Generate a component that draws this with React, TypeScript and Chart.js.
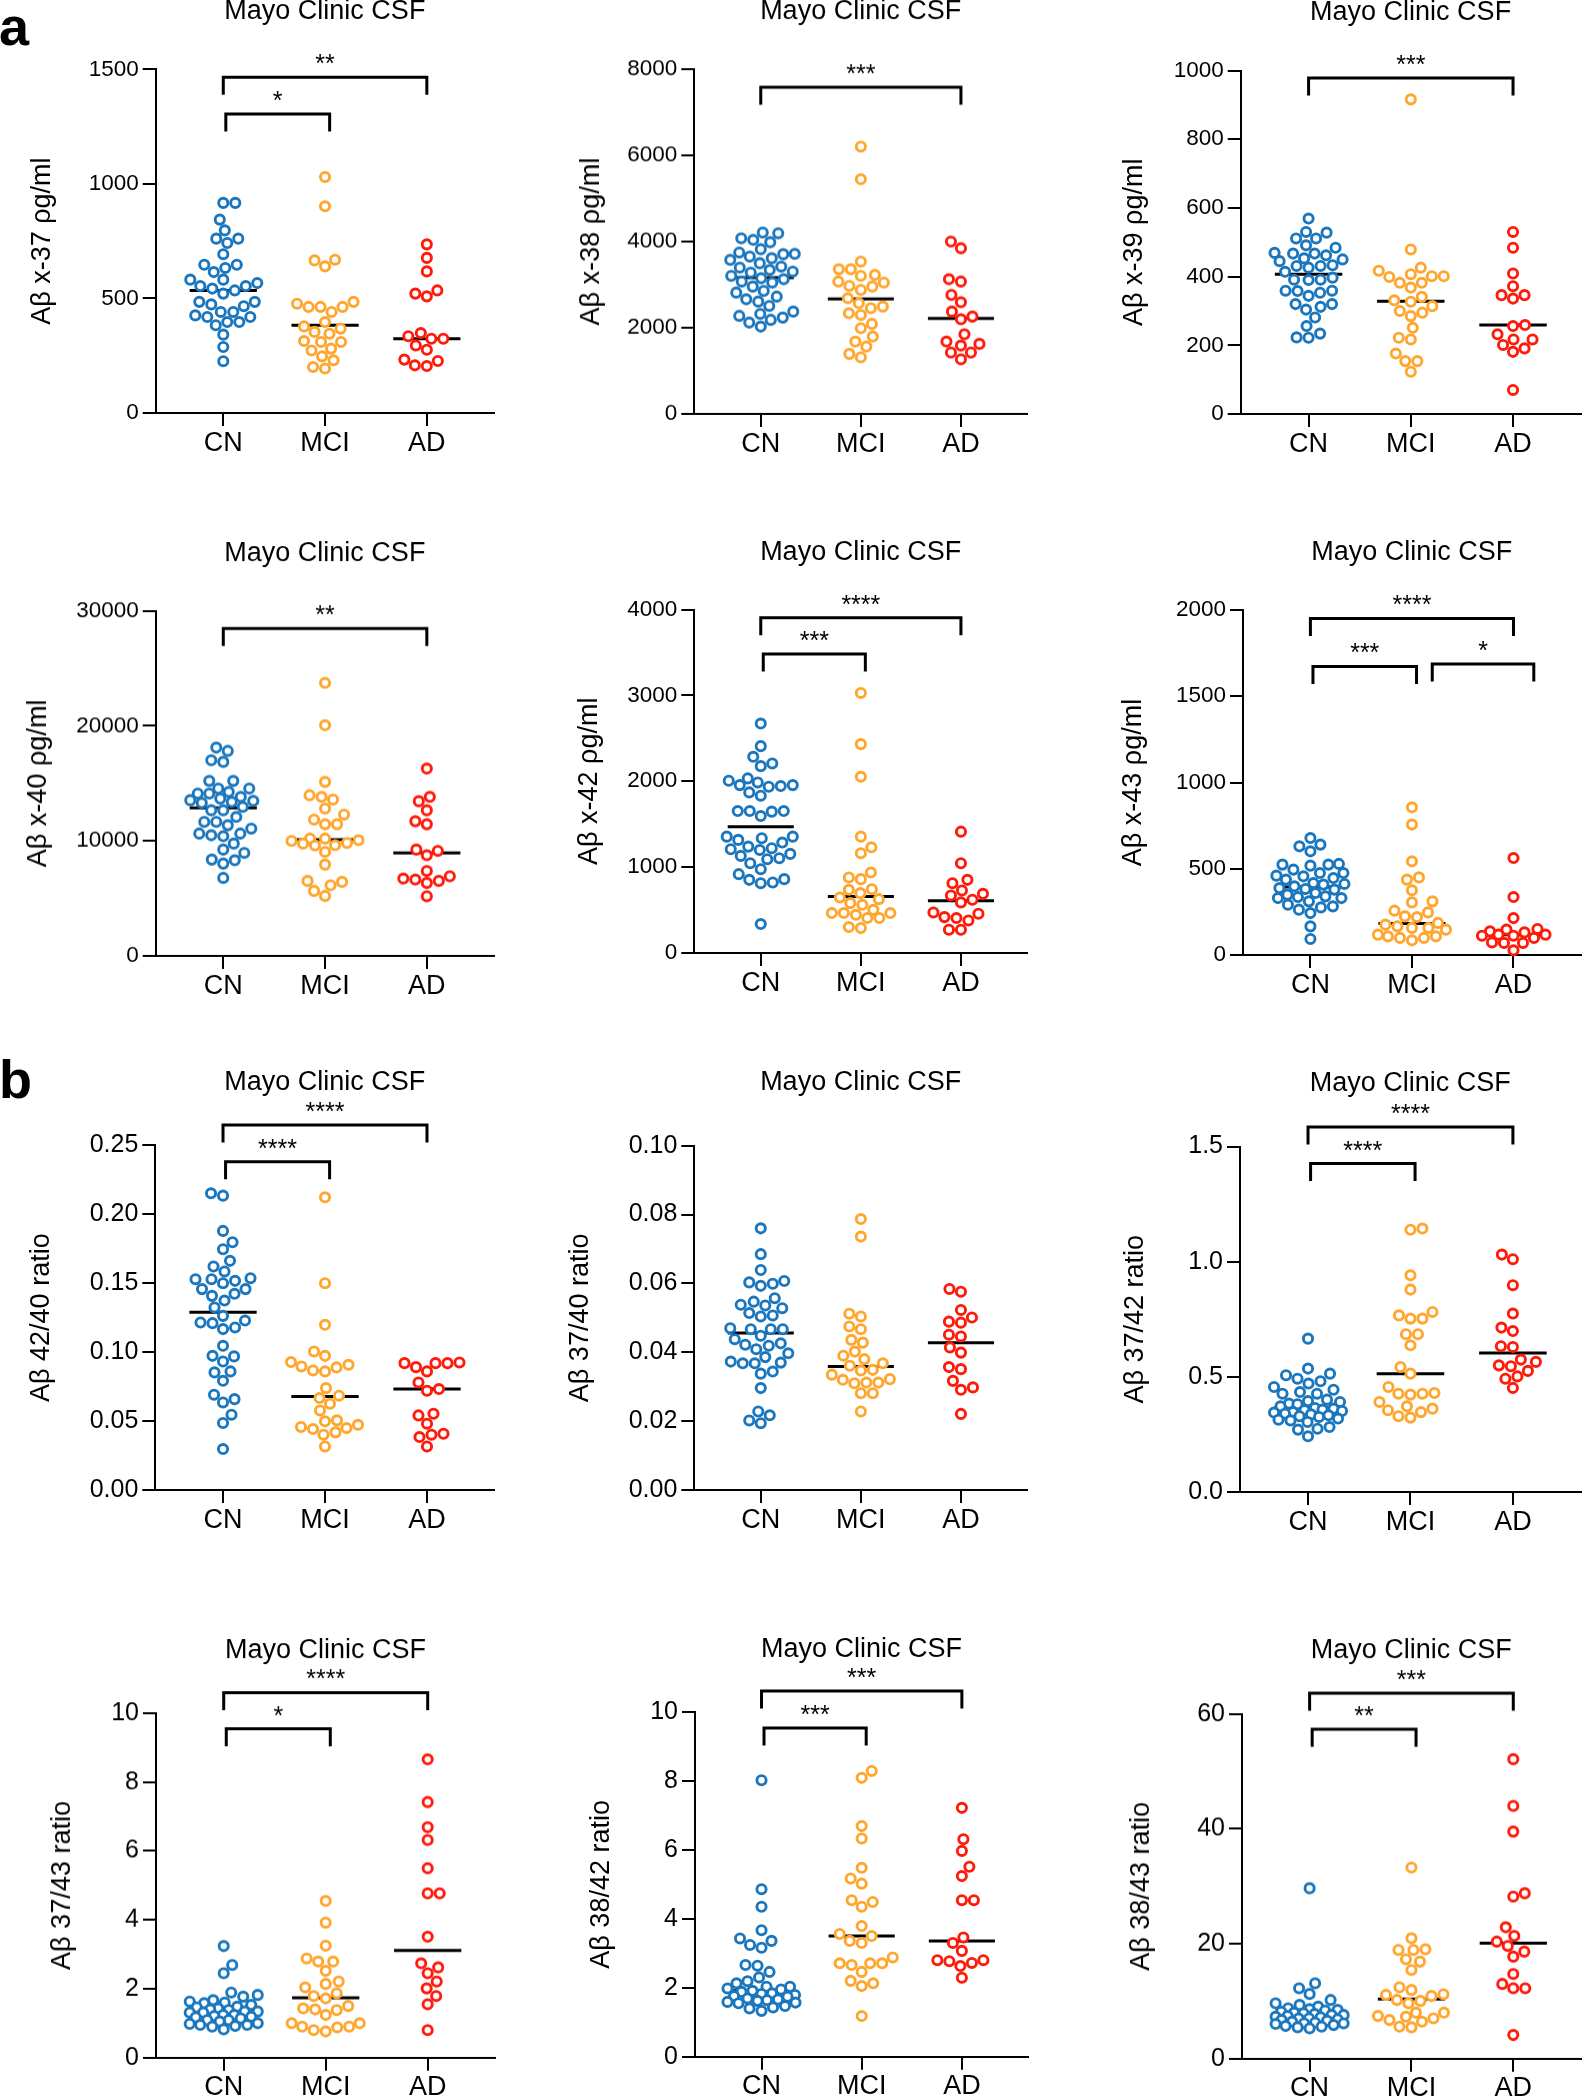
import React, { useEffect, useRef } from "react";
import { Chart, registerables } from "chart.js";
Chart.register(...registerables);

const FONT = '"Liberation Sans", Arial, Helvetica, sans-serif';
Chart.defaults.font.family = FONT;
Chart.defaults.color = "#000";

const GROUPS = ["CN", "MCI", "AD"];
const COLORS = ["#1A77BE", "#FFA62E", "#FF1A0A"];
const PANEL_TITLE = "Mayo Clinic CSF";

// ---------- Panel a1: Aβ x-37 ----------
const x37_CN = [917, 917, 844, 797, 761, 761, 742, 693, 647, 647, 633, 615, 582, 582, 567, 554, 554, 543, 535, 521, 485, 485, 474, 466, 441, 441, 426, 419, 419, 397, 397, 383, 342, 288, 226];
const x37_MCI = [1030, 902, 669, 666, 640, 485, 477, 463, 463, 463, 441, 397, 378, 368, 354, 346, 314, 310, 310, 281, 273, 247, 230, 201, 194];
const x37_AD = [736, 677, 618, 535, 521, 509, 349, 335, 324, 324, 295, 276, 233, 227, 208, 205];
const x37_median = [535, 383, 324];
const x37_ticks = [0, 500, 1000, 1500];

// ---------- Panel a2: Aβ x-38 ----------
const x38_CN = [4209, 4193, 4077, 4039, 3985, 3822, 3745, 3706, 3714, 3652, 3613, 3574, 3497, 3420, 3397, 3342, 3304, 3280, 3203, 3149, 3126, 3072, 3048, 2956, 2855, 2816, 2723, 2661, 2607, 2507, 2375, 2321, 2275, 2236, 2182, 2120, 2027];
const x38_MCI = [6205, 5447, 3536, 3358, 3358, 3226, 3203, 3072, 3048, 2971, 2956, 2878, 2685, 2569, 2491, 2453, 2336, 2298, 2089, 1988, 1795, 1679, 1563, 1393, 1315];
const x38_AD = [4000, 3845, 3126, 3072, 2762, 2592, 2375, 2259, 2197, 1849, 1679, 1625, 1586, 1424, 1424, 1269];
const x38_median = [3164, 2669, 2213];
const x38_ticks = [0, 2000, 4000, 6000, 8000];

// ---------- Panel a3: Aβ x-39 ----------
const x39_CN = [569, 530, 528, 511, 511, 491, 484, 469, 467, 467, 462, 453, 450, 445, 433, 431, 431, 426, 414, 397, 391, 390, 391, 359, 358, 353, 359, 344, 320, 320, 312, 304, 281, 256, 234, 223, 222];
const x39_MCI = [916, 479, 426, 417, 407, 401, 401, 399, 382, 382, 368, 341, 331, 327, 314, 300, 295, 285, 251, 217, 222, 176, 154, 154, 123];
const x39_AD = [530, 484, 409, 372, 346, 346, 336, 259, 256, 232, 217, 217, 201, 191, 181, 70];
const x39_median = [407, 328, 259];
const x39_ticks = [0, 200, 400, 600, 800, 1000];

// ---------- Panel a4: Aβ x-40 ----------
const x40_CN = [18116, 17826, 17014, 16870, 15217, 15217, 14551, 14551, 14261, 14116, 14116, 13826, 13681, 13536, 13478, 13391, 13304, 12957, 12667, 12667, 12087, 11652, 11652, 11362, 11072, 10638, 10638, 10493, 10406, 9768, 9246, 8957, 8377, 8319, 8029, 6783];
const x40_MCI = [23739, 20058, 15130, 13971, 13826, 13594, 12812, 12290, 11855, 11449, 11449, 10203, 10203, 10058, 10000, 9826, 9768, 9623, 9600, 9043, 7942, 6522, 6435, 6145, 5652, 5217];
const x40_AD = [16290, 13826, 13449, 12667, 11710, 11449, 9246, 9130, 8754, 7391, 6928, 6725, 6638, 6522, 6348, 5188];
const x40_median = [12870, 10116, 8957];
const x40_ticks = [0, 10000, 20000, 30000];

// ---------- Panel a5: Aβ x-42 ----------
const x42_CN = [2672, 2409, 2285, 2207, 2176, 2033, 2006, 1986, 1955, 1955, 1944, 1936, 1870, 1832, 1653, 1653, 1653, 1646, 1595, 1355, 1355, 1336, 1317, 1286, 1239, 1220, 1208, 1200, 1154, 1131, 1104, 1092, 1045, 976, 918, 860, 852, 821, 813, 337];
const x42_MCI = [3028, 2432, 2052, 1355, 1231, 1162, 937, 879, 860, 743, 736, 697, 647, 627, 581, 561, 503, 465, 465, 465, 445, 407, 407, 302, 290];
const x42_AD = [1413, 1045, 852, 813, 728, 689, 670, 620, 589, 472, 457, 418, 407, 379, 271, 271];
const x42_median = [1471, 658, 608];
const x42_ticks = [0, 1000, 2000, 3000, 4000];

// ---------- Panel a6: Aβ x-43 ----------
const x43_CN = [678, 640, 630, 601, 528, 524, 524, 518, 495, 475, 475, 460, 456, 446, 437, 417, 412, 408, 398, 388, 383, 379, 359, 350, 340, 336, 330, 330, 311, 292, 282, 276, 263, 243, 166, 93];
const x43_MCI = [856, 756, 543, 450, 437, 375, 311, 305, 257, 247, 224, 220, 186, 176, 166, 157, 157, 147, 118, 108, 108, 99, 99, 85];
const x43_AD = [562, 336, 214, 151, 147, 137, 131, 118, 118, 112, 112, 99, 73, 70, 70, 27];
const x43_median = [394, 182, 118];
const x43_ticks = [0, 500, 1000, 1500, 2000];

// ---------- Panel b1: Aβ 42/40 ratio ----------
const r4240_CN = [0.2152, 0.2135, 0.1879, 0.1797, 0.1746, 0.1662, 0.1621, 0.1585, 0.1536, 0.1529, 0.1529, 0.1517, 0.15, 0.1457, 0.1457, 0.1423, 0.1408, 0.1374, 0.1324, 0.1263, 0.1229, 0.1215, 0.121, 0.1179, 0.1167, 0.1046, 0.0973, 0.0969, 0.0932, 0.086, 0.0853, 0.0792, 0.0691, 0.0659, 0.0635, 0.0546, 0.0486, 0.0297];
const r4240_MCI = [0.2123, 0.15, 0.1198, 0.1005, 0.0973, 0.0928, 0.0908, 0.0896, 0.0889, 0.0867, 0.086, 0.0739, 0.0684, 0.0667, 0.0626, 0.0577, 0.0505, 0.0498, 0.0473, 0.0457, 0.0449, 0.0442, 0.0418, 0.0401, 0.0316];
const r4240_AD = [0.0925, 0.092, 0.092, 0.092, 0.0891, 0.086, 0.078, 0.0732, 0.072, 0.0553, 0.0541, 0.0481, 0.0408, 0.0401, 0.0384, 0.0316];
const r4240_median = [0.129, 0.0679, 0.0732];
const r4240_ticks = [0, 0.05, 0.1, 0.15, 0.2, 0.25];

// ---------- Panel b2: Aβ 37/40 ratio ----------
const r3740_CN = [0.076, 0.0685, 0.0639, 0.0607, 0.0603, 0.0599, 0.0593, 0.0557, 0.0547, 0.0538, 0.0536, 0.0528, 0.0514, 0.0507, 0.0504, 0.047, 0.0467, 0.0467, 0.0467, 0.0448, 0.0438, 0.0426, 0.0422, 0.0419, 0.0409, 0.0397, 0.0386, 0.0373, 0.037, 0.0368, 0.0368, 0.0344, 0.0338, 0.0296, 0.0228, 0.0217, 0.0202, 0.0194];
const r3740_MCI = [0.0787, 0.0736, 0.0512, 0.0504, 0.0475, 0.0467, 0.0436, 0.0428, 0.0402, 0.039, 0.038, 0.0368, 0.0361, 0.0349, 0.0347, 0.0335, 0.0322, 0.032, 0.0312, 0.0312, 0.031, 0.0281, 0.0281, 0.0228];
const r3740_AD = [0.0584, 0.0576, 0.0523, 0.0501, 0.0489, 0.0486, 0.0451, 0.0446, 0.0414, 0.0399, 0.0357, 0.0351, 0.0317, 0.0298, 0.0291, 0.0221];
const r3740_median = [0.0456, 0.0359, 0.0428];
const r3740_ticks = [0, 0.02, 0.04, 0.06, 0.08, 0.1];

// ---------- Panel b3: Aβ 37/42 ratio ----------
const r3742_CN = [0.666, 0.536, 0.514, 0.507, 0.492, 0.481, 0.471, 0.456, 0.444, 0.434, 0.427, 0.427, 0.401, 0.395, 0.391, 0.384, 0.381, 0.372, 0.365, 0.362, 0.358, 0.355, 0.352, 0.347, 0.345, 0.34, 0.337, 0.333, 0.329, 0.326, 0.319, 0.314, 0.311, 0.304, 0.282, 0.275, 0.271, 0.242];
const r3742_MCI = [1.139, 1.144, 0.941, 0.879, 0.782, 0.767, 0.753, 0.753, 0.685, 0.685, 0.637, 0.543, 0.514, 0.456, 0.43, 0.423, 0.427, 0.427, 0.391, 0.372, 0.362, 0.355, 0.347, 0.329, 0.323];
const r3742_AD = [1.031, 1.011, 0.898, 0.775, 0.714, 0.699, 0.633, 0.63, 0.575, 0.565, 0.55, 0.546, 0.526, 0.502, 0.492, 0.452];
const r3742_median = [0.366, 0.514, 0.604];
const r3742_ticks = [0, 0.5, 1.0, 1.5];

// ---------- Panel b4: Aβ 37/43 ratio ----------
const r3743_CN = [3.24, 2.69, 2.45, 1.89, 1.82, 1.77, 1.67, 1.63, 1.6, 1.58, 1.53, 1.48, 1.46, 1.43, 1.4, 1.38, 1.34, 1.34, 1.31, 1.31, 1.24, 1.24, 1.21, 1.19, 1.17, 1.14, 1.09, 1.09, 1.05, 1.0, 0.98, 0.95, 0.95, 0.92, 0.9, 0.82];
const r3743_MCI = [4.55, 3.92, 3.25, 2.88, 2.79, 2.79, 2.52, 2.21, 2.14, 2.04, 1.87, 1.79, 1.72, 1.5, 1.43, 1.4, 1.38, 1.24, 1.0, 1.0, 0.9, 0.9, 0.88, 0.8, 0.76];
const r3743_AD = [8.66, 7.42, 6.69, 6.32, 5.5, 4.77, 4.77, 3.51, 2.74, 2.62, 2.45, 2.21, 2.01, 1.79, 1.55, 0.8];
const r3743_median = [1.34, 1.74, 3.11];
const r3743_ticks = [0, 2, 4, 6, 8, 10];

// ---------- Panel b5: Aβ 38/42 ratio ----------
const r3842_CN = [8.02, 4.86, 4.35, 3.67, 3.43, 3.36, 3.24, 3.16, 2.66, 2.64, 2.46, 2.3, 2.19, 2.13, 2.03, 2.03, 1.98, 1.95, 1.91, 1.88, 1.84, 1.82, 1.79, 1.76, 1.74, 1.69, 1.66, 1.64, 1.62, 1.59, 1.57, 1.55, 1.47, 1.43, 1.4, 1.33];
const r3842_MCI = [8.29, 8.09, 6.69, 6.33, 5.48, 5.17, 5.02, 4.54, 4.49, 4.35, 3.79, 3.56, 3.5, 3.36, 3.3, 2.88, 2.71, 2.71, 2.66, 2.71, 2.46, 2.2, 2.13, 2.05, 1.18];
const r3842_AD = [7.22, 6.31, 5.97, 5.51, 5.24, 4.54, 4.54, 3.46, 3.3, 3.07, 2.8, 2.8, 2.77, 2.72, 2.63, 2.29];
const r3842_median = [1.91, 3.5, 3.36];
const r3842_ticks = [0, 2, 4, 6, 8, 10];

// ---------- Panel b6: Aβ 38/43 ratio ----------
const r3843_CN = [29.66, 13.12, 12.25, 11.26, 10.21, 9.63, 9.34, 9.05, 8.76, 8.6, 8.47, 8.36, 8.18, 8.0, 7.89, 7.78, 7.6, 7.6, 7.43, 7.31, 7.2, 7.02, 7.0, 6.85, 6.73, 6.6, 6.44, 6.27, 6.15, 6.15, 6.04, 5.86, 5.69, 5.57, 5.46, 5.28];
const r3843_MCI = [33.26, 20.95, 19.04, 18.92, 18.92, 17.3, 16.89, 15.44, 12.42, 11.96, 11.2, 11.09, 10.91, 10.21, 10.04, 9.63, 8.01, 8.01, 7.43, 7.31, 7.02, 6.73, 6.44, 5.57, 5.46];
const r3843_AD = [52.12, 43.99, 39.52, 28.79, 28.21, 22.87, 21.36, 20.37, 19.62, 18.63, 17.76, 14.74, 13.0, 12.25, 12.25, 4.12];
const r3843_median = [7.89, 10.39, 20.08];
const r3843_ticks = [0, 20, 40, 60];

// Significance brackets: [from category, to category, y value, label]
type Bracket = [number, number, number, string];
const x37_sig: Bracket[] = [[1, 3, 1465, "**"], [1.025, 2.045, 1305, "*"]];
const x38_sig: Bracket[] = [[1, 3, 7580, "***"]];
const x39_sig: Bracket[] = [[1, 3, 978, "***"]];
const x40_sig: Bracket[] = [[1, 3, 28470, "**"]];
const x42_sig: Bracket[] = [[1, 3, 3903, "****"], [1.025, 2.045, 3481, "***"]];
const x43_sig: Bracket[] = [[1, 3, 1951, "****"], [1.025, 2.045, 1673, "***"], [2.2, 3.2, 1687, "*"]];
const r4240_sig: Bracket[] = [[1, 3, 0.2647, "****"], [1.025, 2.045, 0.2381, "****"]];
const r3740_sig: Bracket[] = [];
const r3742_sig: Bracket[] = [[1, 3, 1.5856, "****"], [1.025, 2.045, 1.4266, "****"]];
const r3743_sig: Bracket[] = [[1, 3, 10.6, "****"], [1.025, 2.045, 9.547, "*"]];
const r3842_sig: Bracket[] = [[1, 3, 10.61, "***"], [1.025, 2.045, 9.536, "***"]];
const r3843_sig: Bracket[] = [[1, 3, 63.6, "***"], [1.025, 2.045, 57.34, "**"]];

// ---------- layout (page pixels) ----------
interface Box { left: number; width: number; axisX: number; right: number; top: number; bottom: number; titleY: number; yTitleX: number; }
interface PanelCfg { yTitle: string; groups: number[][]; medians: number[]; ticks: number[]; decimals: number; sig: Bracket[]; tickFont: number; box: Box; }

const PANELS: PanelCfg[] = [
  { yTitle: "Aβ x-37 ρg/ml", groups: [x37_CN, x37_MCI, x37_AD], medians: x37_median, ticks: x37_ticks, decimals: 0, sig: x37_sig, tickFont: 22.5,
    box: { left: 0, width: 530, axisX: 155.7, right: 494, top: 69, bottom: 412.7, titleY: 11.7, yTitleX: 42.7 } },
  { yTitle: "Aβ x-38 ρg/ml", groups: [x38_CN, x38_MCI, x38_AD], medians: x38_median, ticks: x38_ticks, decimals: 0, sig: x38_sig, tickFont: 22.5,
    box: { left: 530, width: 542, axisX: 694.3, right: 1027, top: 69.3, bottom: 414, titleY: 12.3, yTitleX: 591.7 } },
  { yTitle: "Aβ x-39 ρg/ml", groups: [x39_CN, x39_MCI, x39_AD], medians: x39_median, ticks: x39_ticks, decimals: 0, sig: x39_sig, tickFont: 22.5,
    box: { left: 1072, width: 516, axisX: 1240.7, right: 1585, top: 70, bottom: 414, titleY: 12.5, yTitleX: 1134.7 } },
  { yTitle: "Aβ x-40 ρg/ml", groups: [x40_CN, x40_MCI, x40_AD], medians: x40_median, ticks: x40_ticks, decimals: 0, sig: x40_sig, tickFont: 22.5,
    box: { left: 0, width: 530, axisX: 155.7, right: 494, top: 610.7, bottom: 955.7, titleY: 554, yTitleX: 39 } },
  { yTitle: "Aβ x-42 ρg/ml", groups: [x42_CN, x42_MCI, x42_AD], medians: x42_median, ticks: x42_ticks, decimals: 0, sig: x42_sig, tickFont: 22.5,
    box: { left: 530, width: 542, axisX: 694.3, right: 1027, top: 609, bottom: 953.3, titleY: 552.5, yTitleX: 589.4 } },
  { yTitle: "Aβ x-43 ρg/ml", groups: [x43_CN, x43_MCI, x43_AD], medians: x43_median, ticks: x43_ticks, decimals: 0, sig: x43_sig, tickFont: 22.5,
    box: { left: 1072, width: 516, axisX: 1243, right: 1587, top: 610.3, bottom: 955.3, titleY: 553.3, yTitleX: 1133.5 } },
  { yTitle: "Aβ 42/40 ratio", groups: [r4240_CN, r4240_MCI, r4240_AD], medians: r4240_median, ticks: r4240_ticks, decimals: 2, sig: r4240_sig, tickFont: 25,
    box: { left: 0, width: 530, axisX: 155.3, right: 494.3, top: 1145.3, bottom: 1490.3, titleY: 1083, yTitleX: 41.9 } },
  { yTitle: "Aβ 37/40 ratio", groups: [r3740_CN, r3740_MCI, r3740_AD], medians: r3740_median, ticks: r3740_ticks, decimals: 2, sig: r3740_sig, tickFont: 25,
    box: { left: 530, width: 542, axisX: 694.3, right: 1027, top: 1145.7, bottom: 1490.3, titleY: 1083, yTitleX: 580.2 } },
  { yTitle: "Aβ 37/42 ratio", groups: [r3742_CN, r3742_MCI, r3742_AD], medians: r3742_median, ticks: r3742_ticks, decimals: 1, sig: r3742_sig, tickFont: 25,
    box: { left: 1072, width: 516, axisX: 1240, right: 1585, top: 1146.3, bottom: 1491.7, titleY: 1083.7, yTitleX: 1136 } },
  { yTitle: "Aβ 37/43 ratio", groups: [r3743_CN, r3743_MCI, r3743_AD], medians: r3743_median, ticks: r3743_ticks, decimals: 0, sig: r3743_sig, tickFont: 25,
    box: { left: 0, width: 530, axisX: 156, right: 495, top: 1713.3, bottom: 2057.7, titleY: 1651.3, yTitleX: 62.4 } },
  { yTitle: "Aβ 38/42 ratio", groups: [r3842_CN, r3842_MCI, r3842_AD], medians: r3842_median, ticks: r3842_ticks, decimals: 0, sig: r3842_sig, tickFont: 25,
    box: { left: 530, width: 542, axisX: 695, right: 1028, top: 1711.7, bottom: 2056.7, titleY: 1649.7, yTitleX: 601.5 } },
  { yTitle: "Aβ 38/43 ratio", groups: [r3843_CN, r3843_MCI, r3843_AD], medians: r3843_median, ticks: r3843_ticks, decimals: 0, sig: r3843_sig, tickFont: 25,
    box: { left: 1072, width: 516, axisX: 1242, right: 1587, top: 1714, bottom: 2058.7, titleY: 1651.3, yTitleX: 1141.5 } },
];

const X_MIN = 0.336;
const X_MAX = 3.66;
const PAGE_H = 2100;
const MEDIAN_HALF = 0.33;
const POINT_R = 4.6;
const POINT_BW = 2.9;
const DIAM = 11.8;
const SWARM_HALF = 34;
const LEG = 17.5;

// beeswarm placement (pixel space) -> returns horizontal pixel offsets
function swarmOffsets(vals: number[], toPx: (v: number) => number): number[] {
  const idx = vals.map((_, i) => i).sort((a, b) => vals[a] - vals[b]);
  const placed: { x: number; y: number }[] = [];
  const out = new Array(vals.length).fill(0);
  let flip = 1;
  for (const i of idx) {
    const py = toPx(vals[i]);
    let best = 0;
    let bestScore = -Infinity;
    const step = 0.5;
    const nSteps = Math.floor(SWARM_HALF / step);
    for (let k = 0; k <= nSteps * 2; k++) {
      const off = k === 0 ? 0 : (k % 2 === 1 ? flip : -flip) * Math.ceil(k / 2) * step;
      let minD = Infinity;
      for (const p of placed) {
        const d = Math.hypot(p.x - off, p.y - py);
        if (d < minD) minD = d;
      }
      if (minD >= DIAM) { best = off; bestScore = Infinity; break; }
      if (minD > bestScore + 0.01) { bestScore = minD; best = off; }
    }
    flip = -flip;
    placed.push({ x: best, y: py });
    out[i] = best;
  }
  return out;
}

function Panel({ cfg }: { cfg: PanelCfg }) {
  const ref = useRef<HTMLCanvasElement | null>(null);
  const b = cfg.box;
  const canvasTop = b.titleY - 30;
  const canvasBottom = Math.min(b.bottom + 60, PAGE_H);
  const h = canvasBottom - canvasTop;
  const w = b.width;

  useEffect(() => {
    if (!ref.current) return;
    const titleLH = 27 * 1.2;
    const bracketPlugin = {
      id: "sigBrackets",
      afterDatasetsDraw(chart: any) {
        const { ctx } = chart;
        const xs = chart.scales.x;
        const ys = chart.scales.y;
        ctx.save();
        ctx.strokeStyle = "#000";
        ctx.fillStyle = "#000";
        ctx.lineWidth = 3;
        ctx.lineCap = "butt";
        ctx.lineJoin = "miter";
        ctx.font = `25px ${FONT}`;
        ctx.textAlign = "center";
        ctx.textBaseline = "alphabetic";
        for (const [a, c, v, label] of cfg.sig) {
          const x1 = xs.getPixelForValue(a);
          const x2 = xs.getPixelForValue(c);
          const yy = ys.getPixelForValue(v);
          ctx.beginPath();
          ctx.moveTo(x1, yy + LEG);
          ctx.lineTo(x1, yy);
          ctx.lineTo(x2, yy);
          ctx.lineTo(x2, yy + LEG);
          ctx.stroke();
          ctx.fillText(label, (x1 + x2) / 2, yy - 5);
        }
        ctx.restore();
      },
    };

    const gridOpts = { display: true, drawOnChartArea: false, drawTicks: true, tickLength: 13, tickWidth: 2, tickColor: "#000", color: "#000", lineWidth: 2 };
    const borderOpts = { display: true, color: "#000", width: 2 };

    const datasets: any[] = cfg.groups.map((vals, g) => ({
      type: "scatter",
      data: vals.map((v) => ({ x: g + 1, y: v })),
      pointRadius: POINT_R,
      pointBorderWidth: POINT_BW,
      pointBorderColor: COLORS[g],
      pointBackgroundColor: "#ffffff",
      borderColor: COLORS[g],
      backgroundColor: "#ffffff",
      showLine: false,
      clip: false,
      order: 1,
    }));
    cfg.medians.forEach((m, g) => {
      datasets.push({
        type: "line",
        data: [{ x: g + 1 - MEDIAN_HALF, y: m }, { x: g + 1 + MEDIAN_HALF, y: m }],
        borderColor: "#000",
        borderWidth: 3,
        pointRadius: 0,
        fill: false,
        clip: false,
        order: 5,
      });
    });

    const chart = new Chart(ref.current, {
      type: "scatter",
      data: { datasets },
      plugins: [bracketPlugin],
      options: {
        responsive: false,
        animation: false,
        events: [],
        layout: { padding: { left: 0, top: 0, bottom: 0, right: b.left + w - b.right } },
        plugins: {
          legend: { display: false },
          tooltip: { enabled: false },
          title: {
            display: true,
            text: PANEL_TITLE,
            fullSize: false,
            color: "#000",
            font: { size: 27, weight: "normal", family: FONT, lineHeight: 1.2 },
            padding: { top: 13.8, bottom: b.top - canvasTop - 13.8 - titleLH },
          },
        },
        scales: {
          x: {
            type: "linear",
            min: X_MIN,
            max: X_MAX,
            afterBuildTicks: (s: any) => { s.ticks = GROUPS.map((_, i) => ({ value: i + 1 })); },
            afterFit: (s: any) => { s.height = canvasBottom - b.bottom; },
            ticks: {
              autoSkip: false,
              maxRotation: 0,
              padding: 1,
              color: "#000",
              font: { size: 27, family: FONT },
              callback: (v: any) => GROUPS[Math.round(Number(v)) - 1] ?? "",
            },
            grid: gridOpts,
            border: borderOpts,
          },
          y: {
            type: "linear",
            min: 0,
            max: cfg.ticks[cfg.ticks.length - 1],
            afterBuildTicks: (s: any) => { s.ticks = cfg.ticks.map((v) => ({ value: v })); },
            afterFit: (s: any) => { s.width = b.axisX - b.left; },
            ticks: {
              autoSkip: false,
              padding: 4,
              color: "#000",
              font: { size: cfg.tickFont, family: FONT },
              callback: (v: any) => Number(v).toFixed(cfg.decimals),
            },
            grid: gridOpts,
            border: borderOpts,
            title: {
              display: true,
              text: cfg.yTitle,
              color: "#000",
              font: { size: 27, family: FONT, lineHeight: 1.2 },
              padding: { top: b.yTitleX - b.left - titleLH / 2, bottom: 0 },
            },
          },
        },
      } as any,
    });

    // beeswarm layout using the chart's own scales
    const xs: any = chart.scales.x;
    const ys: any = chart.scales.y;
    const pxPerCat = xs.getPixelForValue(2) - xs.getPixelForValue(1);
    cfg.groups.forEach((vals, g) => {
      const offs = swarmOffsets(vals, (v) => ys.getPixelForValue(v));
      (chart.data.datasets[g] as any).data = vals.map((v, i) => ({ x: g + 1 + offs[i] / pxPerCat, y: v }));
    });
    chart.update();

    return () => chart.destroy();
  }, []);

  return (
    <canvas
      ref={ref}
      width={w}
      height={h}
      style={{ position: "absolute", left: b.left, top: canvasTop, width: w, height: h, display: "block" }}
    />
  );
}

export default function App() {
  const letterStyle: React.CSSProperties = {
    position: "absolute",
    left: -1,
    fontFamily: FONT,
    fontWeight: "bold",
    fontSize: 54,
    lineHeight: "54px",
    color: "#000",
  };
  return (
    <div style={{ position: "absolute", left: 0, top: 0, width: 1588, height: PAGE_H, overflow: "hidden", background: "#fff" }}>
      {PANELS.map((p, i) => (
        <Panel key={i} cfg={p} />
      ))}
      <div style={{ ...letterStyle, top: -1 }}>a</div>
      <div style={{ ...letterStyle, top: 1052 }}>b</div>
    </div>
  );
}
